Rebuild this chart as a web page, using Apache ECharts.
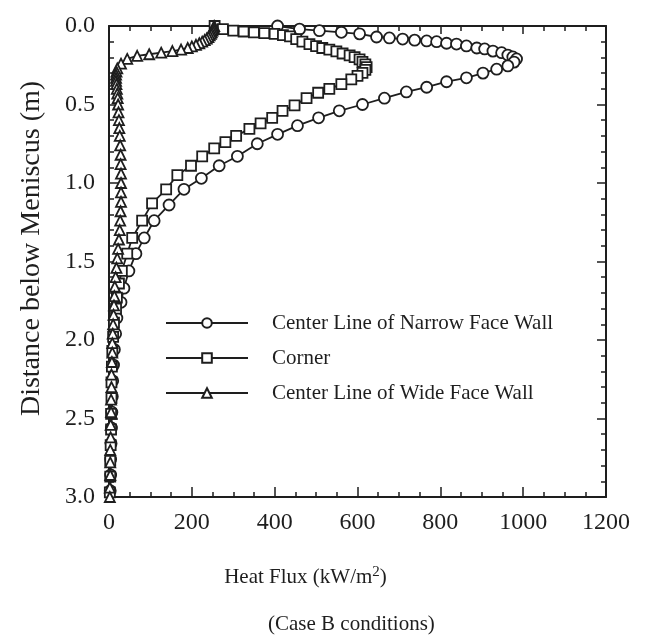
<!DOCTYPE html>
<html>
<head>
<meta charset="utf-8">
<script src="https://cdn.jsdelivr.net/npm/echarts@6/dist/echarts.min.js"></script>
<style>
html,body{margin:0;padding:0;background:#fff;}
#chart{width:648px;height:638px;}
</style>
</head>
<body>
<div id="chart"></div>
<script>
// ---- data (depth below meniscus in m, heat flux in kW/m2) ----
const seriesNames = ['Center Line of Narrow Face Wall', 'Corner', 'Center Line of Wide Face Wall'];

const narrowDepth = [0.00,0.02,0.03,0.04,0.05,0.07,0.076,0.083,0.09,0.095,0.10,0.11,0.115,0.127,0.14,0.146,0.16,0.17,0.185,0.197,0.21,0.23,0.254,0.275,0.30,0.33,0.355,0.39,0.42,0.46,0.50,0.54,0.585,0.635,0.69,0.75,0.83,0.89,0.97,1.04,1.14,1.24,1.35,1.45,1.56,1.67,1.76,1.86,1.96,2.06,2.16,2.26,2.36,2.46,2.56,2.66,2.76,2.86,2.96];
const narrowFlux = [407,460,508,561,605,646,677,709,738,767,791,815,839,863,888,907,927,948,963,975,984,978,963,936,903,863,815,767,718,665,612,556,506,455,407,358,310,266,223,181,145,109,85,65,48,36,29,19,16,13,11,9,8,7,6,5,4,4,3];

const cornerDepth = [0.00,0.02,0.03,0.035,0.04,0.045,0.05,0.058,0.066,0.083,0.10,0.115,0.128,0.14,0.15,0.162,0.175,0.187,0.198,0.212,0.228,0.245,0.262,0.28,0.298,0.318,0.34,0.37,0.40,0.425,0.46,0.505,0.54,0.585,0.62,0.655,0.70,0.74,0.78,0.83,0.89,0.95,1.04,1.13,1.24,1.35,1.45,1.56,1.64,1.73,1.80,1.89,1.98,2.07,2.17,2.27,2.37,2.47,2.57,2.67,2.77,2.87,2.97];
const cornerFlux = [255,275,300,325,350,375,400,420,437,452,467,484,500,515,532,549,564,581,593,605,612,619,622,619,612,600,585,561,532,505,477,448,419,394,366,339,307,281,254,225,198,165,138,104,80,56,44,31,24,19,17,12,10,8,7,6,6,5,5,4,3,3,2];

const wideDepth = [0.00,0.01,0.02,0.03,0.04,0.05,0.06,0.07,0.08,0.09,0.10,0.11,0.12,0.13,0.14,0.15,0.16,0.17,0.18,0.19,0.21,0.24,0.27,0.29,0.31,0.33,0.35,0.37,0.40,0.43,0.46,0.50,0.55,0.60,0.65,0.70,0.76,0.82,0.88,0.94,1.00,1.06,1.12,1.18,1.24,1.30,1.36,1.42,1.48,1.54,1.60,1.66,1.72,1.78,1.84,1.90,1.96,2.02,2.08,2.14,2.22,2.30,2.38,2.46,2.54,2.62,2.70,2.78,2.86,2.94,3.00];
const wideFlux = [254,253,252,250,248,246,243,240,236,231,225,218,210,200,190,174,153,126,97,68,44,29,20,18,17,17,17,18,19,20,21,22,23,24,25,26,27,28,28,29,29,29,29,28,27,26,24,22,20,18,16,14,13,12,11,10,9,8,8,7,6,6,5,5,4,4,3,3,3,2,2];

const xTicks = [0, 1200, 200];   // min, max, interval
const yTicks = [0, 3, 0.5];

const xTitle = 'Heat Flux (kW/m';
const yTitle = 'Distance below Meniscus (m)';
const caseNote = '(Case B conditions)';

// ---- chart ----
const INK = '#1e1e1e';
const FONT = 'Liberation Serif';
function pairs(fx, dp) { return fx.map((v, i) => [v, dp[i]]); }

const chart = echarts.init(document.getElementById('chart'), null, {renderer: 'canvas'});

function xAxisCfg(pos, labels) {
  return {
    type: 'value', position: pos, min: xTicks[0], max: xTicks[1], interval: xTicks[2],
    axisLine: {show: true, onZero: false, lineStyle: {color: INK, width: 2}},
    axisTick: {show: true, inside: true, length: pos === 'bottom' ? 10 : 8, lineStyle: {color: INK, width: 1.5}},
    minorTick: {show: true, splitNumber: 4, length: 5, lineStyle: {color: INK, width: 1.5}},
    splitLine: {show: false},
    axisLabel: labels ? {show: true, fontSize: 24, fontFamily: FONT, color: INK, margin: 14,
      formatter: v => String(v)} : {show: false}
  };
}
function yAxisCfg(pos, labels) {
  return {
    type: 'value', position: pos, inverse: true, min: yTicks[0], max: yTicks[1], interval: yTicks[2],
    axisLine: {show: true, onZero: false, lineStyle: {color: INK, width: 2}},
    axisTick: {show: true, inside: true, length: 9, lineStyle: {color: INK, width: 1.5}},
    minorTick: {show: true, splitNumber: 5, length: 5, lineStyle: {color: INK, width: 1.5}},
    splitLine: {show: false},
    axisLabel: labels ? {show: true, fontSize: 24, fontFamily: FONT, color: INK, margin: 14,
      padding: [0, 0, 5, 0], formatter: v => v.toFixed(1)} : {show: false}
  };
}

const xBottom = xAxisCfg('bottom', true);
xBottom.name = '{a|' + xTitle + '}{s|2}{a|)}';
xBottom.nameLocation = 'middle';
xBottom.nameGap = 68;
xBottom.nameTextStyle = {
  color: INK, fontFamily: FONT, fontSize: 21, padding: [0, 104, 0, 0],
  rich: {
    a: {fontSize: 21, fontFamily: FONT, color: INK},
    s: {fontSize: 15, fontFamily: FONT, color: INK, padding: [0, 0, 10, 0]}
  }
};

const yLeft = yAxisCfg('left', true);
yLeft.name = yTitle;
yLeft.nameLocation = 'middle';
yLeft.nameGap = 63;
yLeft.nameTextStyle = {color: INK, fontFamily: FONT, fontSize: 28, padding: [0, 0, 0, 26]};

function lineSeries(name, data, symbol, size) {
  return {
    name: name, type: 'line', data: data, xAxisIndex: 0, yAxisIndex: 0,
    symbol: symbol, symbolSize: size, showSymbol: true, showAllSymbol: true,
    lineStyle: {color: INK, width: 1.8},
    itemStyle: {color: '#fff', borderColor: INK, borderWidth: 1.8},
    emphasis: {disabled: true}, animation: false
  };
}

chart.setOption({
  backgroundColor: '#fff',
  animation: false,
  grid: {left: 109, right: 42, top: 26, bottom: 141, containLabel: false},
  xAxis: [xBottom, xAxisCfg('top', false)],
  yAxis: [yLeft, yAxisCfg('right', false)],
  legend: {
    show: true, orient: 'vertical', left: 160, top: 306,
    itemWidth: 82, itemHeight: 12, itemGap: 11,
    data: seriesNames,
    textStyle: {fontSize: 21, fontFamily: FONT, color: INK, lineHeight: 24, padding: [0, 0, 0, 19]}
  },
  graphic: [{
    type: 'text', left: 268, top: 614,
    style: {text: caseNote, fontSize: 21, fontFamily: FONT, fill: INK}
  }],
  series: [
    lineSeries(seriesNames[0], pairs(narrowFlux, narrowDepth), 'circle', 11),
    lineSeries(seriesNames[1], pairs(cornerFlux, cornerDepth), 'rect', 10),
    lineSeries(seriesNames[2], pairs(wideFlux, wideDepth), 'triangle', 10)
  ]
});
</script>
</body>
</html>
